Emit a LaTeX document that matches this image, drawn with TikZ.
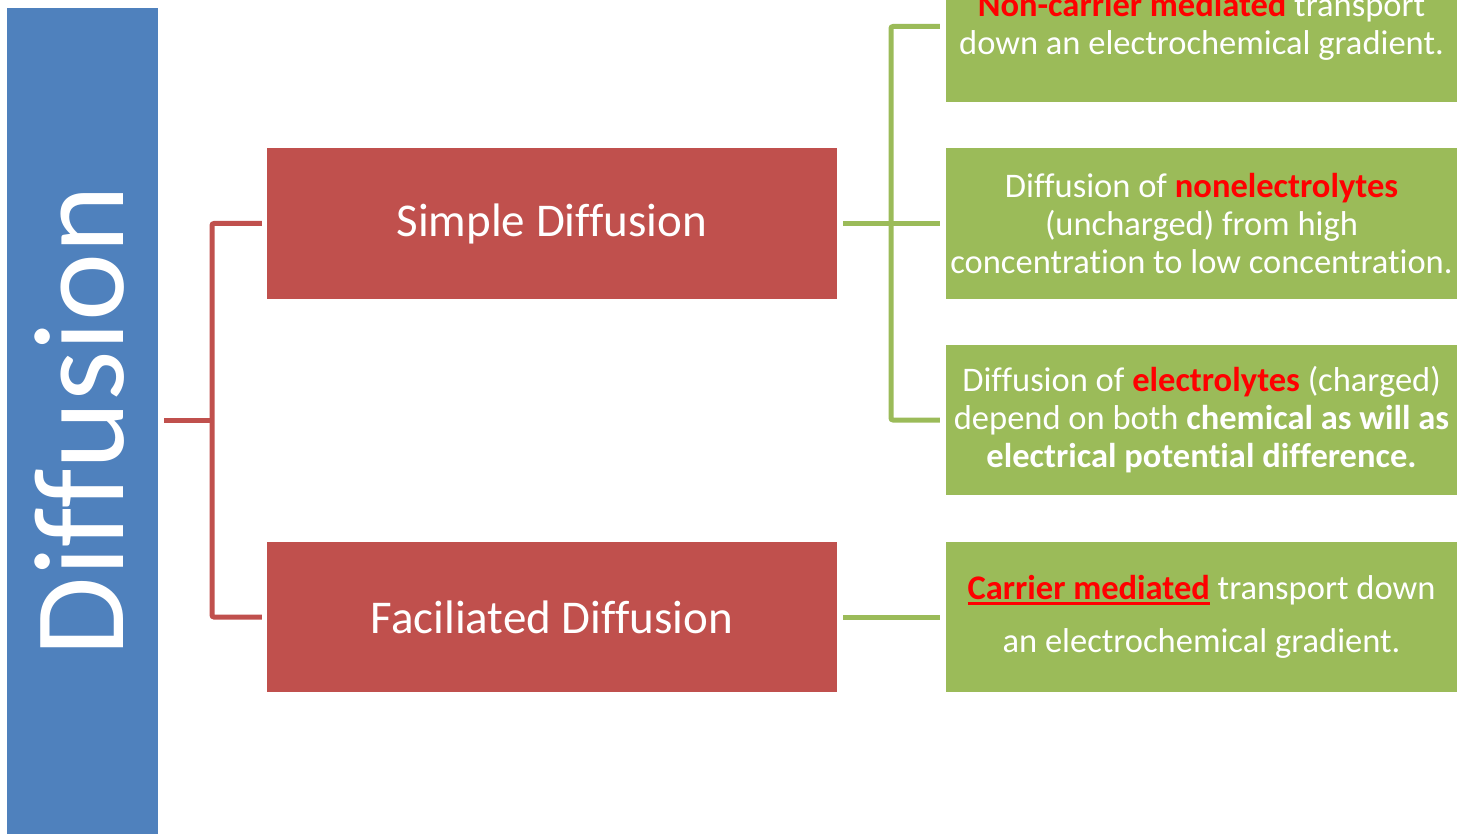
\documentclass[tikz,border=0pt]{standalone}
\usepackage{fontspec}
\setmainfont{Carlito}[Ligatures=NoCommon]
\definecolor{dblue}{HTML}{4F81BD}
\definecolor{dred}{HTML}{C0504D}
\definecolor{dgreen}{HTML}{9BBB59}
\definecolor{hired}{HTML}{FF0000}
\newcommand\hl[1]{\textcolor{hired}{\textbf{#1}}}
\newcommand\myul[1]{\setbox0\hbox{#1}\rlap{\textcolor{hired}{\rule[-5pt]{\wd0}{2.6pt}}}\box0\relax}
\tikzset{
  redbox/.style={fill=dred, text=white, minimum width=570pt, minimum height=151pt, inner sep=0pt, font=\fontsize{47}{56}\selectfont},
  greenbox/.style={fill=dgreen, text=white, minimum width=511pt, minimum height=151pt, inner sep=0pt, align=center, font=\fontsize{34.5}{38}\selectfont},
  redline/.style={draw=dred, line width=5pt, rounded corners=2pt},
  greenline/.style={draw=dgreen, line width=5pt, rounded corners=2pt}
}
\begin{document}
\begin{tikzpicture}[x=1pt, y=-1pt]
\useasboundingbox (0,0) rectangle (1469,834);
\clip (0,0) rectangle (1469,834);
\node[fill=dblue, text=white, rotate=90, minimum width=840pt, minimum height=151pt, inner sep=0pt, font=\fontsize{129}{140}\selectfont] (diff) at (82.5,428) {\hspace*{14pt}\raisebox{7pt}{Diffusion}};
\node[redbox] (simple) at (552,223.5) {Simple Diffusion};
\node[redbox, minimum height=150pt] (facil) at (552,617) {Faciliated Diffusion};
\node[greenbox] (g1) at (1201.5,26.5) {\hl{Non-carrier mediated} transport\\down an electrochemical gradient.};
\node[greenbox] (g2) at (1201.5,223.5) {Diffusion of \hl{nonelectrolytes}\\(uncharged) from high\\concentration to low concentration.};
\node[greenbox, minimum height=150pt] (g3) at (1201.5,420) {Diffusion of \hl{electrolytes} (charged)\\depend on both \textbf{chemical as will as}\\\textbf{electrical potential difference.}};
\node[greenbox, minimum height=150pt, font=\fontsize{34.5}{53}\selectfont] (g4) at (1201.5,617) {\myul{\hl{Carrier mediated}} transport down\\an electrochemical gradient.};
\coordinate (root) at (164,420);
\coordinate (rb) at (212,420);
\coordinate (gb) at (891,223);
\draw[redline] (root) -- (rb);
\draw[redline] ([xshift=-5pt]simple.west) -| (rb) |- ([xshift=-5pt]facil.west);
\draw[greenline] ([xshift=6pt]simple.east) -- ([xshift=-6pt]g2.west);
\draw[greenline] ([xshift=-6pt]g1.west) -| (gb) |- ([xshift=-6pt]g3.west);
\draw[greenline] ([xshift=6pt]facil.east) -- ([xshift=-6pt]g4.west);
\end{tikzpicture}
\end{document}
